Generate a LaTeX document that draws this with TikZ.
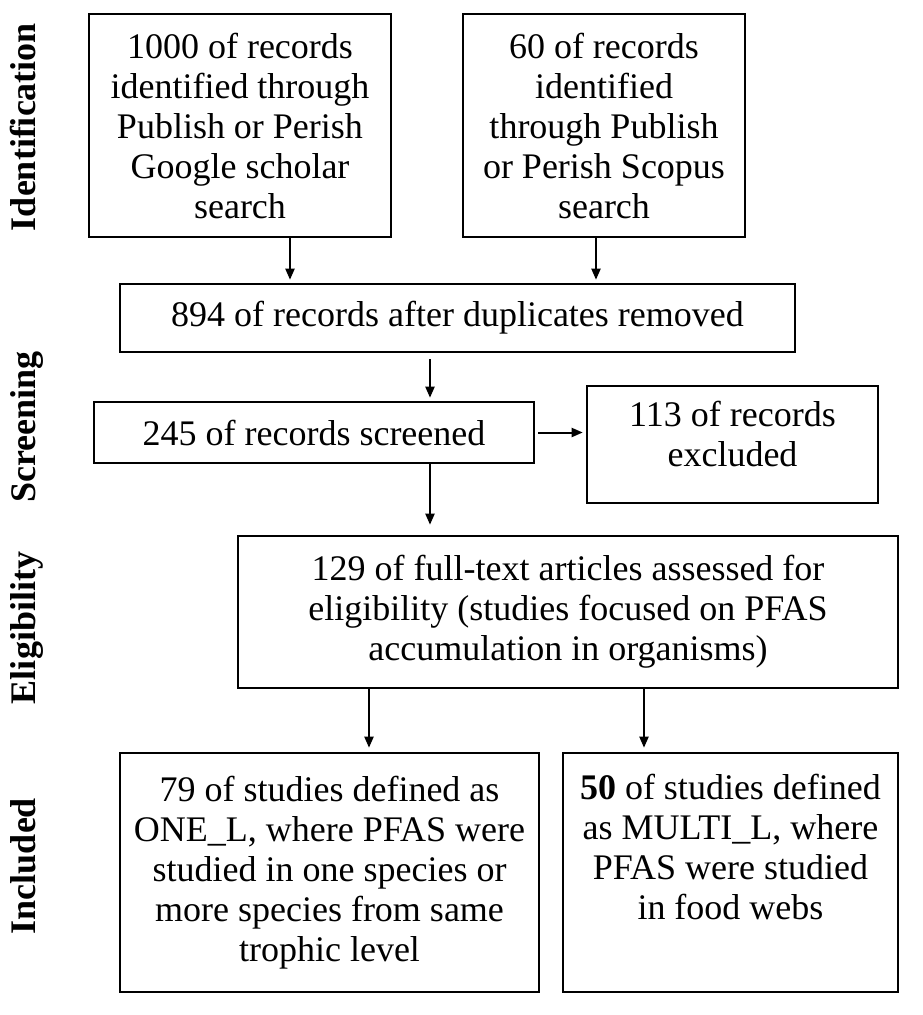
\documentclass[tikz,border=0pt]{standalone}
\usepackage{fontspec}
\setmainfont{Liberation Serif}
\usetikzlibrary{arrows.meta}
\begin{document}
\begin{tikzpicture}[x=1pt,y=-1pt,
 box/.style={draw,line width=2.6pt,rectangle,inner sep=0pt,align=center,font=\fontsize{36}{40}\selectfont},
 arr/.style={line width=2pt,-{Triangle[length=11pt,width=9pt]},shorten >=3pt},
 lab/.style={rotate=90,anchor=base,font=\fontsize{36}{40}\selectfont\bfseries}]
\useasboundingbox[fill=white] (0,0) rectangle (923,1015);
\node[box,minimum width=302pt,minimum height=223pt] (b1) at (240,125.5)
  {1000 of records\\identified through\\Publish or Perish\\Google scholar\\search};
\node[box,minimum width=282pt,minimum height=223pt] (b2) at (604,125.5)
  {60 of records\\identified\\through Publish\\or Perish Scopus\\search};
\node[box,minimum width=675pt,minimum height=68pt] (b3) at (457.5,318)
  {894 of records after duplicates removed};
\node[box,minimum width=440pt,minimum height=61pt] (b4) at (314,432.5)
  {245 of records screened};
\node[box,minimum width=291pt,minimum height=117pt,text depth=22pt] (b5) at (732.5,444.5)
  {113 of records\\excluded};
\node[box,minimum width=660pt,minimum height=152pt] (b6) at (568,612)
  {129 of full-text articles assessed for\\eligibility (studies focused on PFAS\\accumulation in organisms)};
\node[box,minimum width=419pt,minimum height=239pt] (b7) at (329.5,872.5)
  {79 of studies defined as\\ONE\_L, where PFAS were\\studied in one species or\\more species from same\\trophic level};
\node[box,minimum width=335pt,minimum height=239pt] (b8) at (730.5,872.5)
  {\textbf{50} of studies defined\\as MULTI\_L, where\\PFAS were studied\\in food webs\\\strut};
\draw[arr] ([xshift=50pt]b1.south) -- ([xshift=50pt]b1.south |- b3.north);
\draw[arr] ([xshift=-8pt]b2.south) -- ([xshift=-8pt]b2.south |- b3.north);
\draw[arr,shorten <=6pt] ([xshift=-27.5pt]b3.south) -- ([xshift=-27.5pt]b3.south |- b4.north);
\draw[arr,shorten <=3pt] (b4.east) -- (b4.east -| b5.west);
\draw[arr,shorten >=10pt] ([xshift=116pt]b4.south) -- ([xshift=116pt]b4.south |- b6.north);
\draw[arr,shorten >=4pt] ([xshift=-199pt]b6.south) -- ([xshift=-199pt]b6.south |- b7.north);
\draw[arr,shorten >=4pt] ([xshift=76pt]b6.south) -- ([xshift=76pt]b6.south |- b8.north);
\node[lab] (l1) at (35,127) {Identification};
\node[lab] (l2) at (35,427) {Screening};
\node[lab] (l3) at (35,628) {Eligibility};
\node[lab] (l4) at (35,866) {Included};
\end{tikzpicture}
\end{document}
